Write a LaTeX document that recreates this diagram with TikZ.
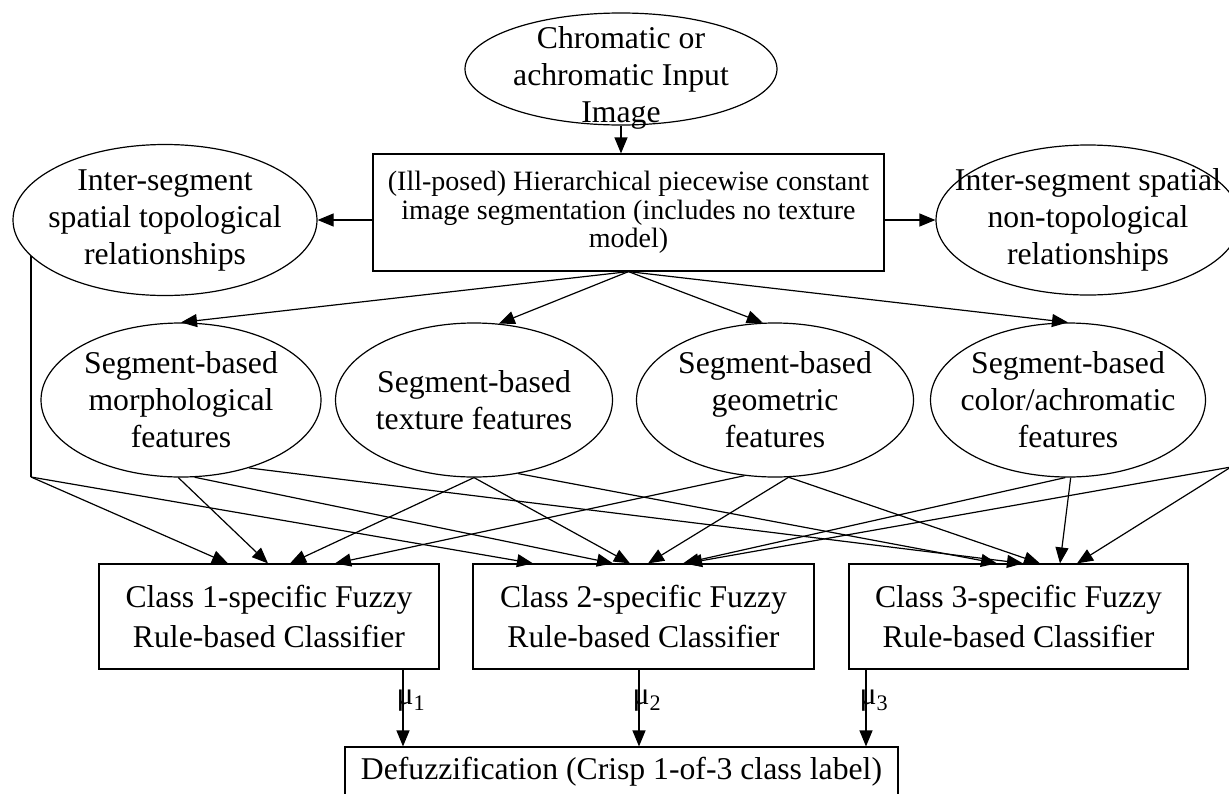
\documentclass[tikz,border=0pt]{standalone}
\usepackage{fontspec}
\setmainfont{Liberation Serif}
\usetikzlibrary{shapes.geometric,arrows.meta}

\begin{document}
\begin{tikzpicture}[x=1pt,y=-1pt,line width=1.2pt,>={Triangle[length=16pt,width=13pt]},
	font=\fontsize{31.7}{37}\selectfont,
	box/.style={draw,rectangle,align=center,inner sep=0pt,font=\fontsize{31.7}{40}\selectfont},
	oval/.style={draw,ellipse,inner sep=0pt},
	txt/.style={align=center}]

	\useasboundingbox (0,0) rectangle (1229,793);

	\node[oval,minimum width=312pt,minimum height=112pt,label={[txt,yshift=-9pt]center:Chromatic or\\achromatic Input\\Image}] (input) at (621,69) {};
	\node[box,minimum width=511pt,minimum height=117pt,font=\fontsize{28}{28.5}\selectfont] (main) at (628.5,212.5) {(Ill-posed) Hierarchical piecewise constant\\image segmentation (includes no texture\\model)};
	\node[oval,minimum width=304pt,minimum height=151pt,label={[txt]center:Inter-segment\\spatial topological\\relationships}] (topo) at (165,220) {};
	\node[oval,minimum width=304pt,minimum height=150pt,label={[txt]center:Inter-segment spatial\\non-topological\\relationships}] (nontopo) at (1088,220) {};

	\node[oval,minimum width=280pt,minimum height=154pt,label={[txt]center:Segment-based\\morphological\\features}] (morph) at (181,400) {};
	\node[oval,minimum width=277pt,minimum height=154pt,label={[txt]center:Segment-based\\texture features}] (tex) at (474,400) {};
	\node[oval,minimum width=277pt,minimum height=154pt,label={[txt]center:Segment-based\\geometric\\features}] (geo) at (775,400) {};
	\node[oval,minimum width=275pt,minimum height=154pt,label={[txt]center:Segment-based\\color/achromatic\\features}] (color) at (1068,400) {};

	\node[box,minimum width=340pt,minimum height=105pt] (c1) at (269,616.5) {Class 1-specific Fuzzy\\Rule-based Classifier};
	\node[box,minimum width=341pt,minimum height=105pt] (c2) at (643.5,616.5) {Class 2-specific Fuzzy\\Rule-based Classifier};
	\node[box,minimum width=339pt,minimum height=105pt] (c3) at (1018.5,616.5) {Class 3-specific Fuzzy\\Rule-based Classifier};
	\node[box,minimum width=553pt,minimum height=50pt] (defuzz) at (621.5,772) {Defuzzification (Crisp 1-of-3 class label)};

	\path[->] (input.south) edge (input.south |- main.north);
	\path[->] (main.west |- topo) edge (topo.east);
	\path[->] (main.east |- nontopo) edge (nontopo.west);
	\path[->] (main.south) edge (morph.north) edge (tex.72) edge (geo.99) edge (color.north);

	% relationships feed the classifiers
	\coordinate (tjoin) at (31,477);
	\coordinate (njoin) at (1231,467);
	\draw (tjoin |- topo.195) -- (tjoin);
	\draw (njoin |- nontopo.350) -- (njoin);
	\path[->] (tjoin) edge ([xshift=-41pt]c1.north) edge ([xshift=-110.5pt]c2.north);
	\path[->] (njoin) edge ([xshift=42.5pt]c2.north) edge ([xshift=58.5pt]c3.north);

	% features feed the classifiers
	\path[->] (morph.268) edge ([xshift=-1pt]c1.north);
	\path[->] (morph.280) edge ([xshift=-30.5pt]c2.north);
	\path[->] (morph.315) edge ([xshift=4.5pt]c3.north);
	\path[->] (tex.south) edge ([xshift=21pt]c1.north) edge ([xshift=-13.5pt]c2.north);
	\path[->] (tex.301) edge ([xshift=-21.5pt]c3.north);
	\path[->] (geo.248) edge ([xshift=66pt]c1.north);
	\path[->] (geo.280) edge ([xshift=4.5pt]c2.north) edge ([xshift=21.5pt]c3.north);
	\path[->] (color.268) edge ([xshift=39.5pt]c2.north);
	\path[->] (color.272) edge ([xshift=41.5pt]c3.north);

	% memberships
	\coordinate (o1) at ([xshift=134pt]c1.south);
	\coordinate (o2) at ([xshift=-4.5pt]c2.south);
	\coordinate (o3) at ([xshift=-152.5pt]c3.south);
	\path[->] (o1) edge node[pos=0.4,xshift=8pt] {μ\textsubscript{1}} (o1 |- defuzz.north);
	\path[->] (o2) edge node[pos=0.4,xshift=8pt] {μ\textsubscript{2}} (o2 |- defuzz.north);
	\path[->] (o3) edge node[pos=0.4,xshift=8pt] {μ\textsubscript{3}} (o3 |- defuzz.north);

\end{tikzpicture}
\end{document}
